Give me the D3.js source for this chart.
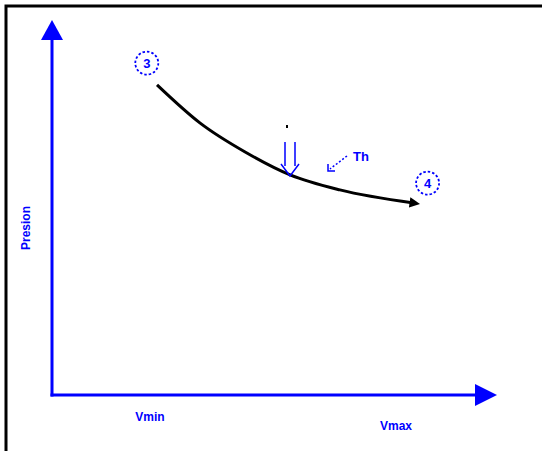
<!DOCTYPE html>
<html>
<head>
<meta charset="utf-8">
<script src="https://cdn.jsdelivr.net/npm/d3@7"></script>
<style>
  body { margin: 0; background: #fff; }
  svg text { font-family: "Liberation Sans", Arial, sans-serif; }
</style>
</head>
<body>
<div id="chart"></div>
<script>
// process curve 3 -> 4 (volume, pressure), arbitrary units
var volume   = [2.36, 3.33, 4.34, 5.35, 6.47, 8.13];
var pressure = [8.27, 7.25, 6.48, 5.87, 5.47, 5.12];
var tickLabels = ["Vmin", "Vmax"];
var tickValues = [2.2, 7.73];
var stateLabels = ["3", "4"];
var stateV = [2.13, 8.44];
var stateP = [8.85, 5.65];

var W = 542, H = 451;
var blue = "#0000ff";

var svg = d3.select("#chart").append("svg")
  .attr("width", W).attr("height", H);

var x = d3.scaleLinear().domain([0, 10]).range([52, 497]);
var y = d3.scaleLinear().domain([0, 10]).range([395, 20]);

// frame (only top + left visible)
svg.append("path")
  .attr("d", "M6," + H + " V6 H" + W)
  .attr("fill", "none").attr("stroke", "#000").attr("stroke-width", 3);

// axes
svg.append("line")
  .attr("x1", x(0)).attr("y1", y(0) + 1.5).attr("x2", x(0)).attr("y2", y(10) + 18)
  .attr("stroke", blue).attr("stroke-width", 3);
svg.append("path")
  .attr("d", "M" + x(0) + "," + y(10) + " L" + (x(0) - 11) + "," + (y(10) + 20) + " L" + (x(0) + 11) + "," + (y(10) + 20) + "Z")
  .attr("fill", blue);

svg.append("line")
  .attr("x1", x(0) - 1.5).attr("y1", y(0)).attr("x2", x(10) - 20).attr("y2", y(0))
  .attr("stroke", blue).attr("stroke-width", 3);
svg.append("path")
  .attr("d", "M" + x(10) + "," + y(0) + " L" + (x(10) - 22) + "," + (y(0) - 11) + " L" + (x(10) - 22) + "," + (y(0) + 11) + "Z")
  .attr("fill", blue);

// tick labels
svg.selectAll(".tick-label")
  .data(tickLabels)
  .enter().append("text")
  .attr("class", "tick-label")
  .attr("x", function (d, i) { return x(tickValues[i]); })
  .attr("y", function (d, i) { return i === 0 ? 421 : 430; })
  .attr("text-anchor", "middle")
  .attr("font-size", 12)
  .attr("font-weight", "bold")
  .attr("fill", blue)
  .text(function (d) { return d; });

// y label
svg.append("text")
  .attr("transform", "translate(30,228) rotate(-90)")
  .attr("text-anchor", "middle")
  .attr("font-size", 12)
  .attr("font-weight", "bold")
  .attr("fill", blue)
  .text("Presion");

// curve
var pts = volume.map(function (v, i) { return [x(v), y(pressure[i])]; });
var defs = svg.append("defs");
defs.append("marker")
  .attr("id", "head")
  .attr("viewBox", "0 0 10 10")
  .attr("refX", 4).attr("refY", 5)
  .attr("markerWidth", 3.5).attr("markerHeight", 3.5)
  .attr("orient", "auto")
  .append("path").attr("d", "M0,0 L10,5 L0,10 Z").attr("fill", "#000");

svg.append("path")
  .datum(pts)
  .attr("d", d3.line().curve(d3.curveMonotoneX))
  .attr("fill", "none")
  .attr("stroke", "#000")
  .attr("stroke-width", 3)
  .attr("marker-end", "url(#head)");

// state markers (dotted circles)
var states = svg.selectAll(".state")
  .data(stateLabels)
  .enter().append("g")
  .attr("class", "state")
  .attr("transform", function (d, i) { return "translate(" + x(stateV[i]) + "," + y(stateP[i]) + ")"; });
states.append("circle")
  .attr("r", 11.5)
  .attr("fill", "none")
  .attr("stroke", blue)
  .attr("stroke-width", 1.8)
  .attr("stroke-dasharray", "2.5,2");
states.append("text")
  .attr("text-anchor", "middle")
  .attr("dy", "0.36em")
  .attr("font-size", 13)
  .attr("font-weight", "bold")
  .attr("fill", blue)
  .text(function (d) { return d; });

// heat-out double arrow
svg.append("path")
  .attr("d", "M285,142 V166 M295,142 V166 M281,164 L290,176 L299,164")
  .attr("fill", "none").attr("stroke", blue).attr("stroke-width", 1.5);
svg.append("rect").attr("x", 286).attr("y", 125).attr("width", 2).attr("height", 3).attr("fill", "#000");

// Th pointer
svg.append("line")
  .attr("x1", 347).attr("y1", 156).attr("x2", 330).attr("y2", 169)
  .attr("stroke", blue).attr("stroke-width", 1.5).attr("stroke-dasharray", "2,2");
svg.append("path")
  .attr("d", "M328,164 V171 H335")
  .attr("fill", "none").attr("stroke", blue).attr("stroke-width", 1.5);
svg.append("text")
  .attr("x", 353).attr("y", 161)
  .attr("font-size", 13)
  .attr("font-weight", "bold")
  .attr("fill", blue)
  .text("Th");
</script>
</body>
</html>
